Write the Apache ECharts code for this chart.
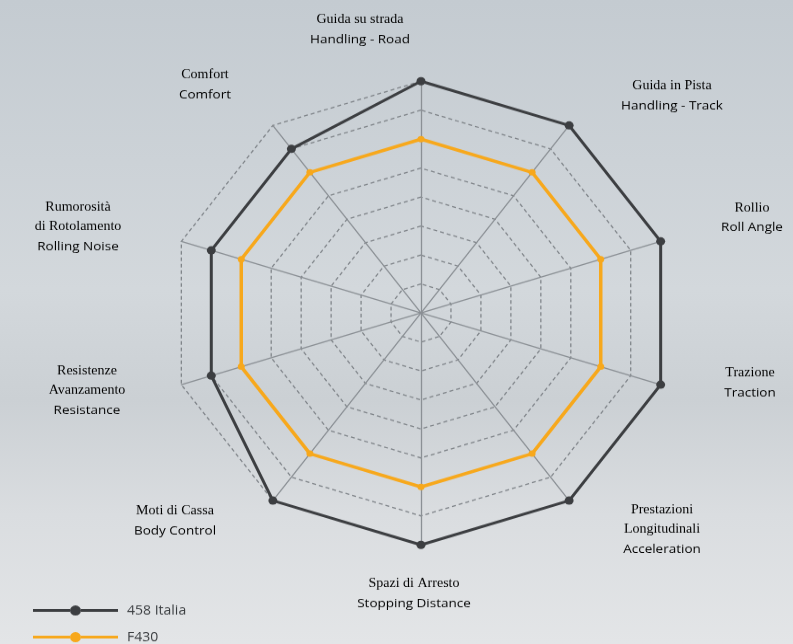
<!DOCTYPE html>
<html>
<head>
<meta charset="utf-8">
<script src="https://cdn.jsdelivr.net/npm/echarts@6/dist/echarts.min.js"></script>
<style>
html,body{margin:0;padding:0;width:793px;height:644px;overflow:hidden;}
body{background:linear-gradient(180deg,#c4cbd1 0%,#ccd2d7 25%,#d3d8dc 45%,#cbd0d4 62%,#dadde0 80%,#e3e5e7 100%);}
#wrap{width:793px;height:644px;overflow:hidden;position:relative;}
#chart{width:793px;height:700px;transform:scaleY(0.92);transform-origin:0 0;position:absolute;left:0;top:0;}
</style>
</head>
<body>
<div id="wrap"><div id="chart"></div></div>
<script>
// Indicators in ECharts radar order (counter-clockwise from top)
const indicatorsEn = ['Handling - Road','Comfort','Rolling Noise','Resistance','Body Control','Stopping Distance','Acceleration','Traction','Roll Angle','Handling - Track'];
const indicatorsIt = ['Guida su strada','Comfort','Rumorosità\ndi Rotolamento','Resistenze\nAvanzamento','Moti di Cassa','Spazi di Arresto','Prestazioni\nLongitudinali','Trazione','Rollio','Guida in Pista'];
const seriesNames = ['458 Italia','F430'];
const italia458 = [8,7,7,7,8,8,8,8,8,8];
const f430 = [6,6,6,6,6,6,6,6,6,6];
const axisMax = 8;

// label block centres in page pixels
const labelPos = [[360,30],[205,85],[78,227],[87,391],[175,521],[414,594],[662,530],[750,383],[752,218],[672,96]];
const SY = 0.92;

const chart = echarts.init(document.getElementById('chart'), null, {renderer:'canvas'});

const graphics = indicatorsEn.map((en, i) => {
  const itLines = indicatorsIt[i].split('\n').map(s => '{it|' + s + '}');
  return {
    type: 'text',
    x: labelPos[i][0],
    y: labelPos[i][1] / SY,
    silent: true,
    style: {
      text: itLines.concat(['{en|' + en + '}']).join('\n'),
      align: 'center',
      verticalAlign: 'middle',
      rich: {
        it: {fontFamily: '"Liberation Serif", "DejaVu Serif", serif', fontSize: 14, color: '#43464a', lineHeight: 21},
        en: {fontFamily: '"Open Sans", "Noto Sans", sans-serif', fontSize: 13.5, color: '#303336', lineHeight: 22}
      }
    }
  };
});

const legendIcon = 'path://M0,4 L37,4 L37,7 L0,7 Z M48,4 L85,4 L85,7 L48,7 Z M37,5.5 A5.5,5.5 0 1 1 48,5.5 A5.5,5.5 0 1 1 37,5.5 Z';

chart.setOption({
  animation: false,
  backgroundColor: 'transparent',
  legend: {
    orient: 'vertical',
    left: 33,
    top: 604 / SY,
    padding: 0,
    itemWidth: 85,
    itemHeight: 11,
    itemGap: 15,
    data: seriesNames.map(n => ({name: n, icon: legendIcon})),
    textStyle: {fontFamily: '"Open Sans", "Noto Sans", sans-serif', fontSize: 14, color: '#3a3d40', padding: [0,0,0,4]}
  },
  graphic: graphics,
  radar: {
    center: [421, 313 / SY],
    radius: 252,
    startAngle: 90,
    shape: 'polygon',
    splitNumber: axisMax,
    indicator: indicatorsEn.map(n => ({name: n, min: 0, max: axisMax})),
    axisName: {show: false},
    axisLine: {lineStyle: {color: '#8b9095', width: 1.3}},
    splitLine: {lineStyle: {color: '#80858a', width: 1.3, type: [4, 3]}},
    splitArea: {show: false},
    axisTick: {show: false},
    axisLabel: {show: false}
  },
  series: [{
    type: 'radar',
    symbol: 'circle',
    data: [
      {name: seriesNames[0], value: italia458, symbolSize: 9,
        lineStyle: {color: '#3c3e41', width: 3}, itemStyle: {color: '#3c3e41'}},
      {name: seriesNames[1], value: f430, symbolSize: 7,
        lineStyle: {color: '#f7a81c', width: 3.5}, itemStyle: {color: '#f7a81c'}}
    ]
  }]
});
</script>
</body>
</html>
